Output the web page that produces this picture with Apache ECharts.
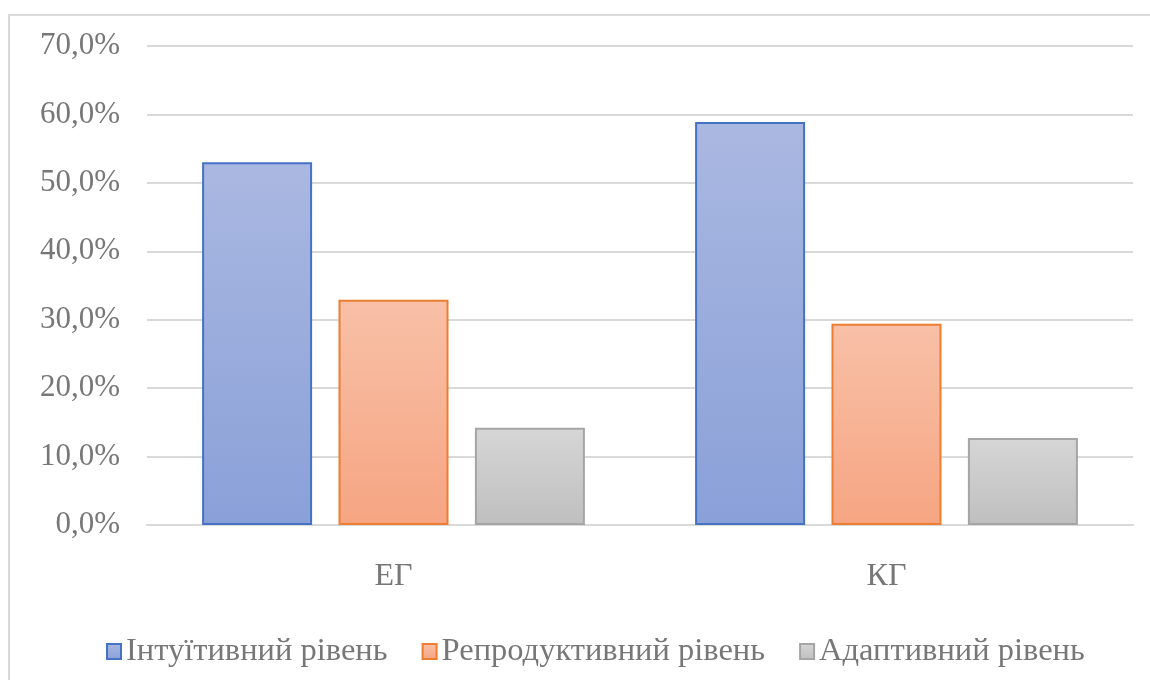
<!DOCTYPE html>
<html>
<head>
<meta charset="utf-8">
<script src="https://cdn.jsdelivr.net/npm/echarts@6/dist/echarts.min.js"></script>
<style>
  html, body { margin: 0; padding: 0; background: #fff; overflow: hidden; }
  #frame { position: absolute; left: 8px; top: 14px; width: 1160px; height: 700px; border: 2px solid #d9d9d9; box-sizing: border-box; }
  #chart { position: absolute; left: 0; top: 0; width: 1150px; height: 680px; }
</style>
</head>
<body>
<div id="frame"></div>
<div id="chart"></div>
<script>
// групи та рівні
var categories = ['ЕГ', 'КГ'];
var seriesNames = ['Інтуїтивний рівень', 'Репродуктивний рівень', 'Адаптивний рівень'];
var intuitive = [53.0, 58.9];
var reproductive = [32.9, 29.4];
var adaptive = [14.2, 12.7];

var fills = [
  ['#aab8e1', '#8aa0d8', '#4472c4'],
  ['#f8c0a7', '#f6a582', '#ed7d31'],
  ['#d6d6d6', '#bfbfbf', '#a5a5a5']
];
var font = '"Liberation Serif", serif';
var textColor = '#777777';

function makeSeries(name, data, c) {
  return {
    name: name,
    type: 'bar',
    data: data,
    barWidth: 110,
    barGap: '24%',
    itemStyle: {
      color: new echarts.graphic.LinearGradient(0, 0, 0, 1, [
        { offset: 0, color: c[0] },
        { offset: 1, color: c[1] }
      ]),
      borderColor: c[2],
      borderWidth: 2
    }
  };
}

var chart = echarts.init(document.getElementById('chart'));
chart.setOption({
  animation: false,
  textStyle: { fontFamily: font },
  grid: { left: 147, right: 17, top: 46, bottom: 155, containLabel: false },
  legend: {
    top: 630,
    left: 101,
    itemWidth: 14,
    itemHeight: 15,
    itemGap: 34,
    icon: 'rect',
    formatter: '{t|{name}}',
    textStyle: {
      rich: { t: { fontFamily: font, fontSize: 32.5, color: textColor } }
    },
    data: seriesNames
  },
  xAxis: {
    type: 'category',
    data: categories,
    axisTick: { show: false },
    axisLine: { show: true, lineStyle: { color: '#d9d9d9', width: 2 } },
    axisLabel: { fontFamily: font, fontSize: 32, color: textColor, margin: 36 }
  },
  yAxis: {
    type: 'value',
    min: 0,
    max: 70,
    interval: 10,
    axisLine: { show: false },
    axisTick: { show: false },
    splitLine: { lineStyle: { color: '#d9d9d9', width: 2 } },
    axisLabel: {
      fontFamily: font, fontSize: 31, color: textColor, margin: 27,
      formatter: function (v) { return v.toFixed(1).replace('.', ',') + '%'; }
    }
  },
  series: [
    makeSeries(seriesNames[0], intuitive, fills[0]),
    makeSeries(seriesNames[1], reproductive, fills[1]),
    makeSeries(seriesNames[2], adaptive, fills[2])
  ]
});
</script>
</body>
</html>
